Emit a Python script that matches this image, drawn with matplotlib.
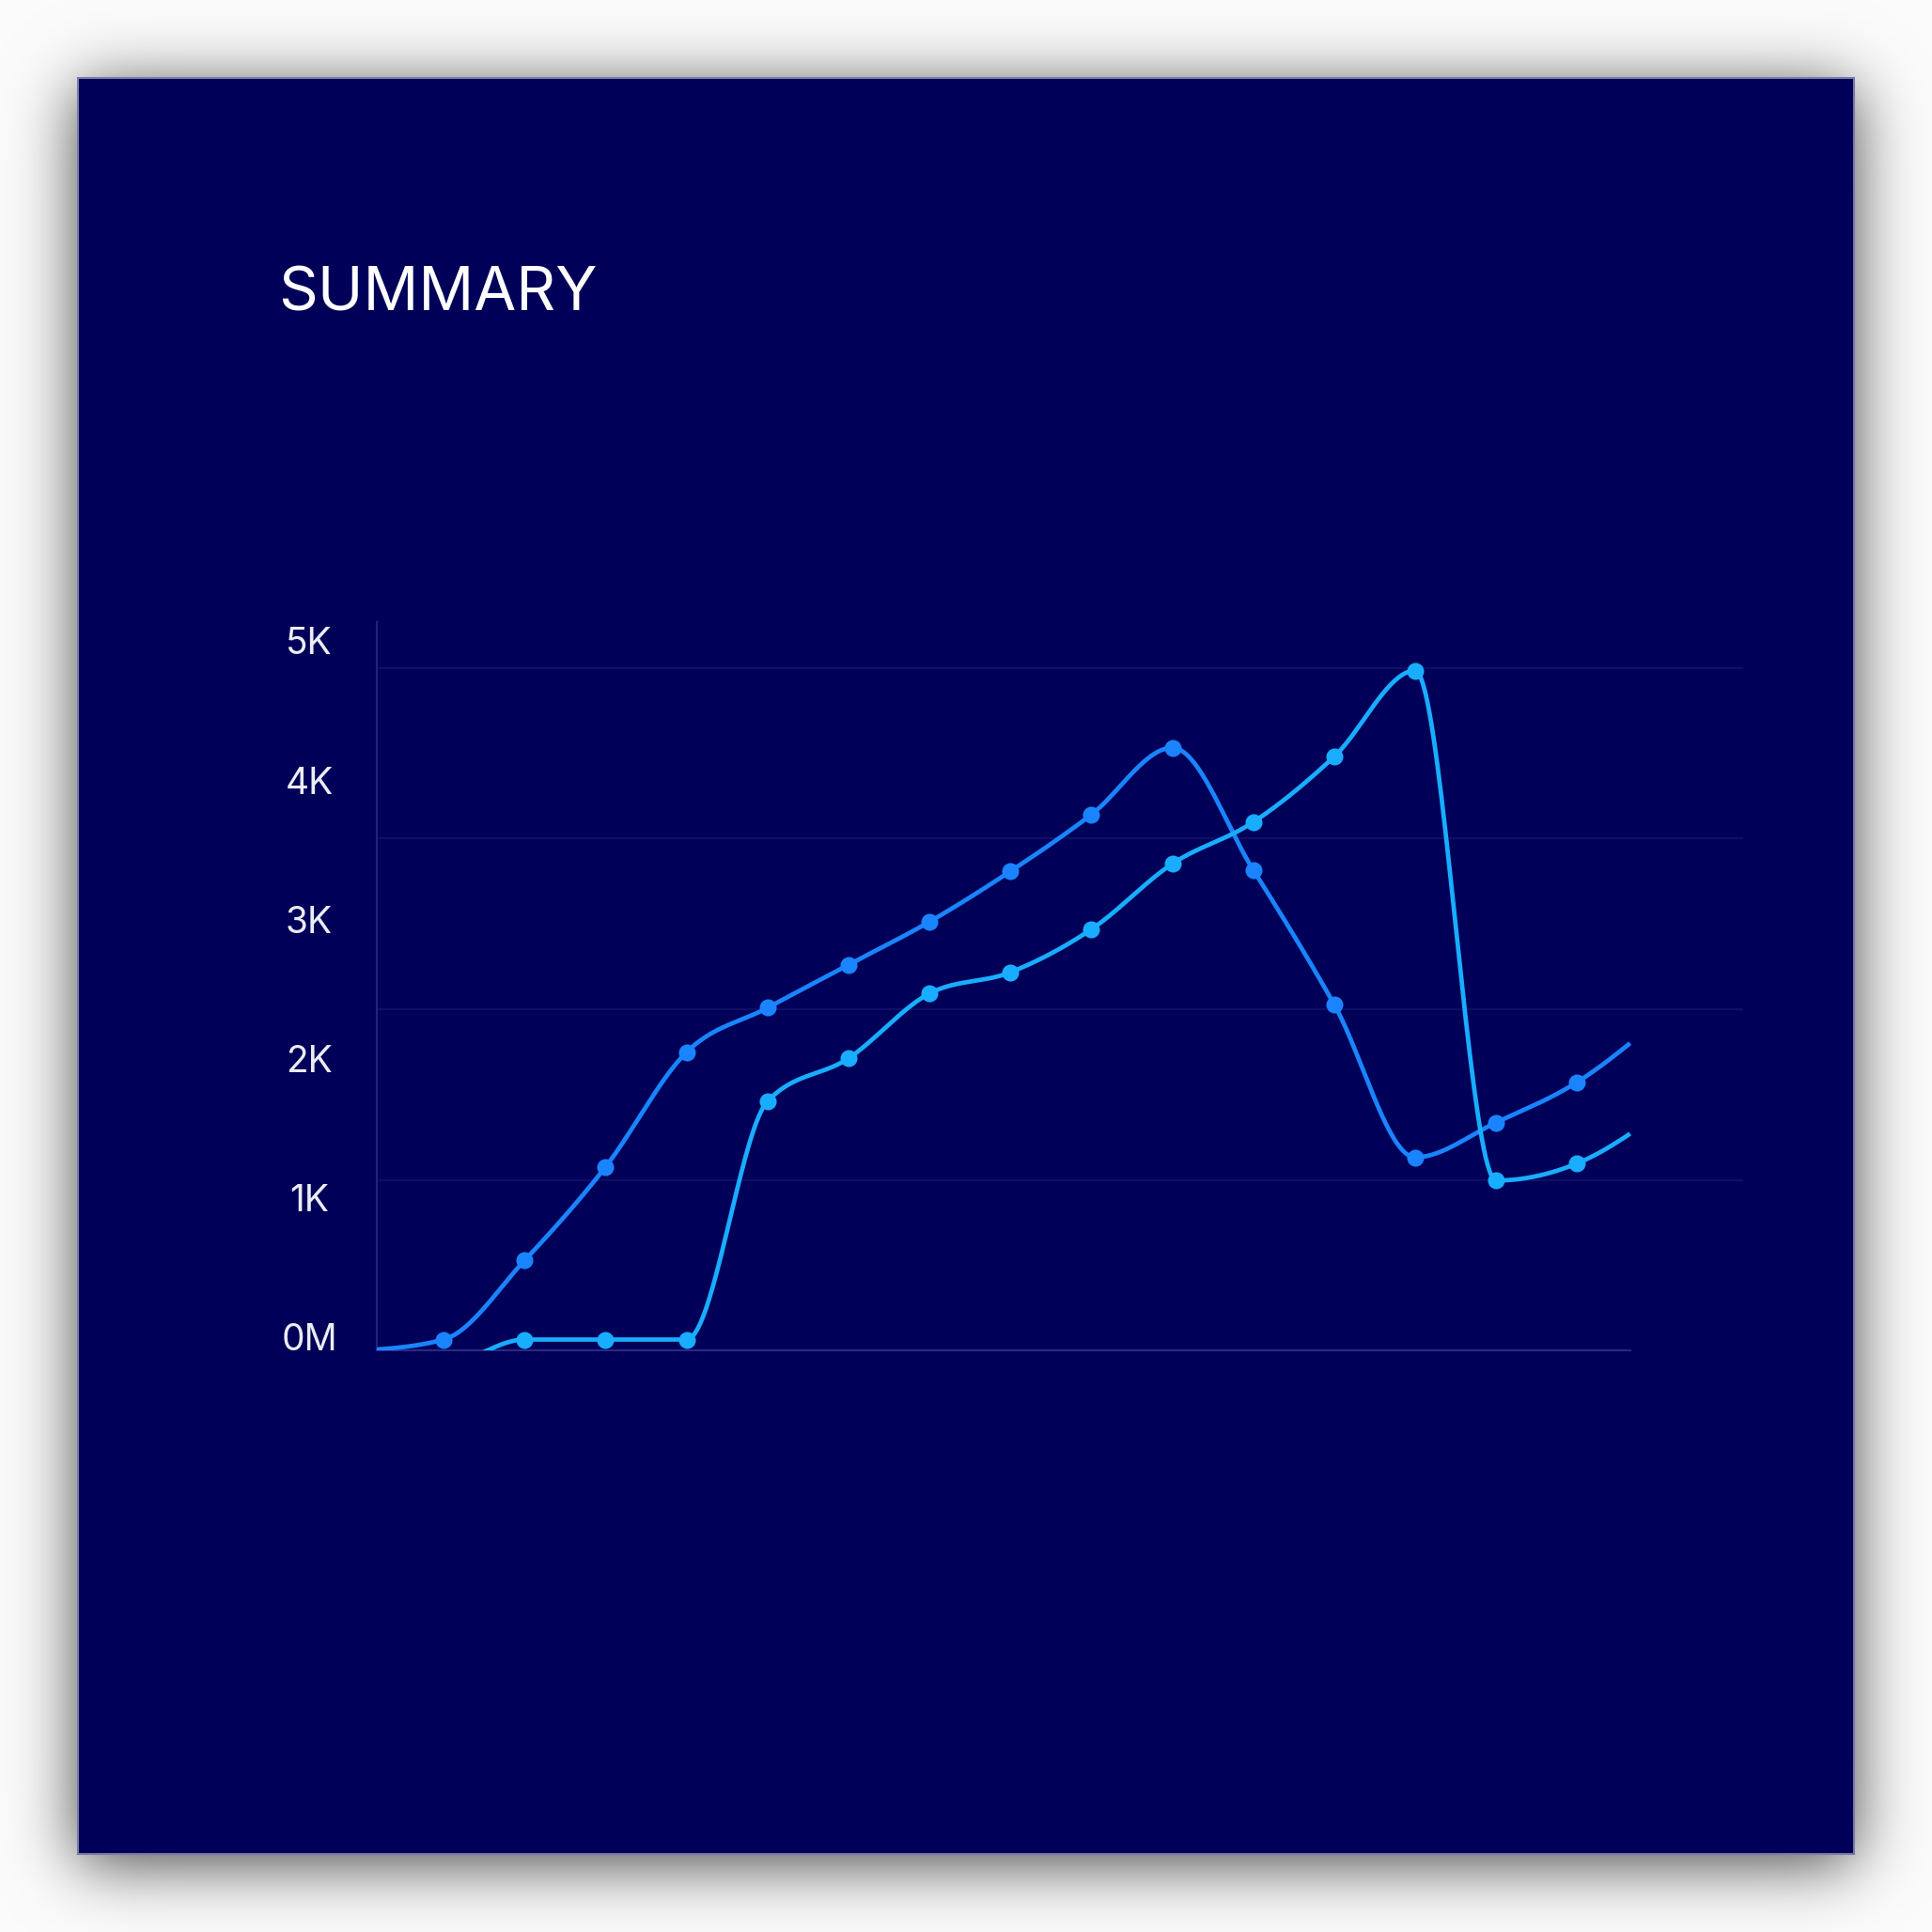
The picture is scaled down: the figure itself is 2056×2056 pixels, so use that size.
import math
import numpy as np
import matplotlib
matplotlib.use("Agg")
import matplotlib.pyplot as plt
from matplotlib.patches import Rectangle

# ---------------------------------------------------------------
# data
# ---------------------------------------------------------------
x_idx = list(range(17))
serie_a = [0, 80, 660, 1345, 2185, 2510, 2825, 3140, 3510, 3925, 4415,
           3520, 2535, 1415, 1670, 1965, 2420]
serie_b = [-100, -100, 80, 80, 80, 1825, 2140, 2615, 2770, 3085, 3565,
           3870, 4350, 4980, 1245, 1370, 1730]
y_label_vals = [0, 1000, 2000, 3000, 4000, 5000]
y_labels = ['0M', '1K', '2K', '3K', '4K', '5K']
grid_vals = [1250, 2500, 3750, 5000]

# ---------------------------------------------------------------
# style
# ---------------------------------------------------------------
BG = '#000059'
COL_A = '#1a84ff'
COL_B = '#19adff'
GRID = '#0f0f66'
SPINE = '#22227a'
X_CLIP = 15.655         # the curves are cut here
X_LIM = (0.178, 17.055)
Y_LIM = (0, 5334)


def monotone_x(xs, ys, n=40):
    """Curva monotona (Fritsch-Carlson, como d3.curveMonotoneX)."""
    xs = np.asarray(xs, float)
    ys = np.asarray(ys, float)
    h = np.diff(xs)
    s = np.diff(ys) / h
    m = np.zeros_like(ys)
    for i in range(1, len(ys) - 1):
        s0, s1 = s[i - 1], s[i]
        p = (s0 * h[i] + s1 * h[i - 1]) / (h[i - 1] + h[i])
        m[i] = (np.sign(s0) + np.sign(s1)) * min(abs(s0), abs(s1), 0.5 * abs(p))
    m[0] = (3 * s[0] - m[1]) / 2
    m[-1] = (3 * s[-1] - m[-2]) / 2
    px, py = [], []
    for i in range(len(xs) - 1):
        t = np.linspace(0, 1, n, endpoint=False)
        h00 = 2 * t**3 - 3 * t**2 + 1
        h10 = t**3 - 2 * t**2 + t
        h01 = -2 * t**3 + 3 * t**2
        h11 = t**3 - t**2
        px.append(xs[i] + t * h[i])
        py.append(h00 * ys[i] + h10 * h[i] * m[i] + h01 * ys[i + 1] + h11 * h[i] * m[i + 1])
    px.append([xs[-1]])
    py.append([ys[-1]])
    return np.concatenate(px), np.concatenate(py)


# ---------------------------------------------------------------
# figure + card with soft shadow
# ---------------------------------------------------------------
W = 2056
fig = plt.figure(figsize=(W / 100, W / 100), dpi=100)
fig.patch.set_facecolor('white')

card0, card1, sigma, off = 83, 1973, 34.0, 10
pix = np.arange(W) + 0.5
erf = np.vectorize(math.erf)
sx = 0.5 * (erf((pix - card0) / (math.sqrt(2) * sigma)) - erf((pix - card1) / (math.sqrt(2) * sigma)))
sy = 0.5 * (erf((pix - card0 - off) / (math.sqrt(2) * sigma)) - erf((pix - card1 - off) / (math.sqrt(2) * sigma)))
shade = 1 - 0.72 * np.outer(sy, sx)
bg_ax = fig.add_axes([0, 0, 1, 1])
bg_ax.imshow(np.dstack([shade * 0.985] * 3), extent=[0, 1, 0, 1], origin='upper',
             aspect='auto', interpolation='bilinear')
bg_ax.set_axis_off()

c0, c1 = card0 / W, card1 / W
bg_ax.add_patch(Rectangle((c0, 1 - c1), c1 - c0, c1 - c0, facecolor=BG,
                          edgecolor='#7a7aa8', lw=1.5, transform=bg_ax.transAxes))
bg_ax.set_xlim(0, 1)
bg_ax.set_ylim(0, 1)

fig.text(0.144, 0.8393, 'SUMMARY', color='white', fontsize=47,
         family=['Inter', 'DejaVu Sans'], ha='left', va='baseline')

# ---------------------------------------------------------------
# chart
# ---------------------------------------------------------------
ax = fig.add_axes([0.1952, 0.3010, 0.9024 - 0.1952, 0.6779 - 0.3010])
ax.set_facecolor('none')
ax.set_xlim(*X_LIM)
ax.set_ylim(*Y_LIM)

for serie, col in [(serie_a, COL_A), (serie_b, COL_B)]:
    cx, cy = monotone_x(x_idx, serie)
    keep = cx <= X_CLIP
    cx_end = np.append(cx[keep], X_CLIP)
    cy_end = np.append(cy[keep], np.interp(X_CLIP, cx, cy))
    ax.plot(cx_end, cy_end, color=col, lw=3.4, solid_capstyle='butt', zorder=3)
    mx = [x for x in x_idx if x <= X_CLIP]
    my = [serie[x] for x in mx]
    ax.plot(mx, my, 'o', color=col, ms=13, mec='none', zorder=4)

ax.set_yticks(grid_vals)
ax.set_yticklabels([])
ax.set_xticks([])
ax.tick_params(axis='y', length=0)
ax.grid(axis='y', color=GRID, lw=1.5)
ax.set_axisbelow(True)
for side in ['top', 'right']:
    ax.spines[side].set_visible(False)
ax.spines['left'].set_color(SPINE)
ax.spines['left'].set_linewidth(1.5)
ax.spines['bottom'].set_color('#2a2a80')
ax.spines['bottom'].set_linewidth(1.5)
ax.spines['bottom'].set_bounds(X_LIM[0], X_CLIP)

# y labels live on their own scale (not aligned with the gridlines)
sec = ax.secondary_yaxis('left', functions=(lambda v: (v - 99) * 1000 / 1020,
                                            lambda v: v * 1020 / 1000 + 99))
sec.set_yticks(y_label_vals)
sec.set_yticklabels(y_labels)
sec.tick_params(length=0, pad=52, labelsize=28, labelcolor='#ececf4')
sec.spines['left'].set_visible(False)
for lab in sec.get_yticklabels():
    lab.set_ha('center')
    lab.set_family(['Inter', 'DejaVu Sans'])

fig.savefig('out.png', dpi=100, facecolor=fig.get_facecolor())
